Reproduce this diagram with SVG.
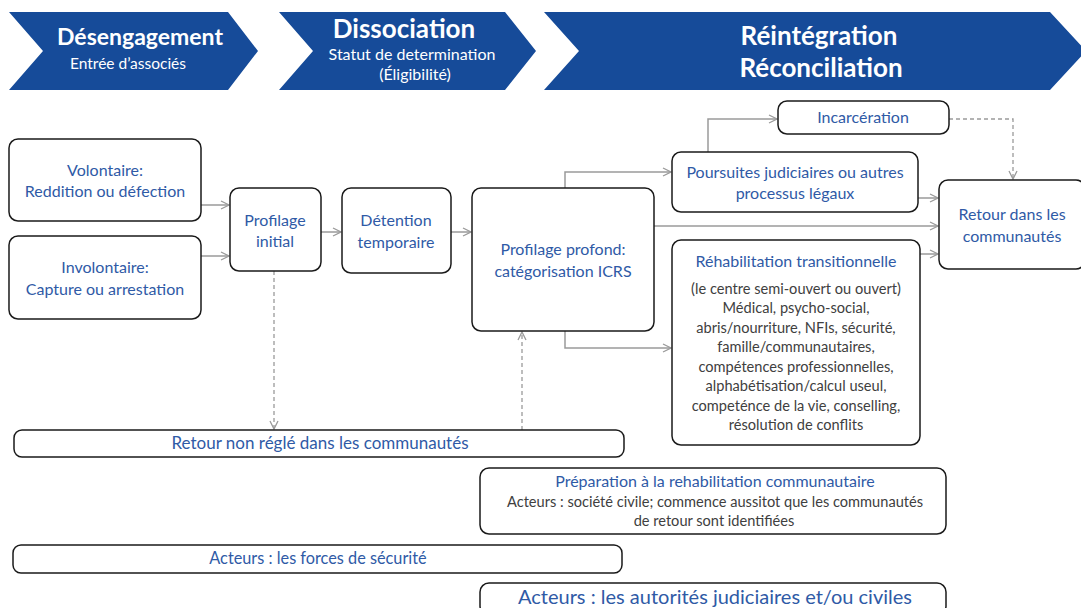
<svg xmlns="http://www.w3.org/2000/svg" width="1081" height="608" viewBox="0 0 1081 608">
<defs>
<style>
.chev{fill:#164B99}
.h{font-family:Lato,"Open Sans",sans-serif;fill:#fff;text-anchor:middle;font-weight:bold;font-size:26px}
.hs{font-family:Lato,"Open Sans",sans-serif;fill:#fff;text-anchor:middle;font-size:16px}
.box{fill:#fff;stroke:#1a1a1a;stroke-width:1.5}
.t{font-family:Lato,"Open Sans",sans-serif;fill:#2F5AA6;text-anchor:middle;font-size:16px}
.g{font-family:Lato,"Open Sans",sans-serif;fill:#404040;text-anchor:middle;font-size:14.6px}
.c{fill:none;stroke:#9a9a9a;stroke-width:1.5}
.d{fill:none;stroke:#9a9a9a;stroke-width:1.3;stroke-dasharray:4 3}
</style>
<marker id="a" viewBox="0 0 10 10" refX="9" refY="5" markerWidth="10" markerHeight="10" markerUnits="userSpaceOnUse" orient="auto">
<path d="M1,1 L9,5 L1,9" fill="none" stroke="#9a9a9a" stroke-width="1.3"/>
</marker>
</defs>
<rect width="1081" height="608" fill="#fff"/>
<g id="phase1"><polygon class="chev" points="9,12 228,12 258,51 228,90 9,90 43,51"/>
<text class="h" x="140" y="45" style="font-size:23px">Désengagement</text>
<text class="hs" x="128" y="69" style="font-size:15.5px">Entrée d’associés</text></g>
<g id="phase2"><polygon class="chev" points="279,12 505,12 536,51 505,90 279,90 313,51"/>
<text class="h" x="404" y="38">Dissociation</text>
<text class="hs" x="412" y="60">Statut de determination</text>
<text class="hs" x="415" y="80">(Éligibilité)</text></g>
<g id="phase3"><polygon class="chev" points="544,12 1050,12 1086,51 1050,90 544,90 579,51"/>
<text class="h" x="819" y="45">Réintégration</text>
<text class="h" x="821" y="77">Réconciliation</text></g>

<g id="connectors">
<path class="c" d="M201,205 H229" marker-end="url(#a)"/>
<path class="c" d="M201,256 H229" marker-end="url(#a)"/>
<path class="c" d="M321,232 H341" marker-end="url(#a)"/>
<path class="c" d="M451,232 H471" marker-end="url(#a)"/>
<path class="c" d="M565,188 V172 H671" marker-end="url(#a)"/>
<path class="c" d="M708,152 V119 H777" marker-end="url(#a)"/>
<path class="c" d="M918,198 H938" marker-end="url(#a)"/>
<path class="c" d="M654,226 H938" marker-end="url(#a)"/>
<path class="c" d="M920,254 H938" marker-end="url(#a)"/>
<path class="c" d="M565,331 V348 H671" marker-end="url(#a)"/>
<path class="d" d="M949,119 H1013 V179" marker-end="url(#a)"/>
<path class="d" d="M274,271 V429" marker-end="url(#a)"/>
<path class="d" d="M522,430 V332" marker-end="url(#a)"/>
</g>

<g id="volontaire"><rect class="box" x="9" y="139" width="192" height="82" rx="9"/>
<text class="t" x="105" y="176">Volontaire:</text>
<text class="t" x="105" y="197">Reddition ou défection</text></g>
<g id="involontaire"><rect class="box" x="9" y="236" width="192" height="83" rx="9"/>
<text class="t" x="105" y="273">Involontaire:</text>
<text class="t" x="105" y="295">Capture ou arrestation</text></g>
<g id="profilage-initial"><rect class="box" x="230" y="188" width="91" height="83" rx="9"/>
<text class="t" x="275" y="226">Profilage</text>
<text class="t" x="275" y="247">initial</text></g>
<g id="detention"><rect class="box" x="342" y="188" width="109" height="85" rx="9"/>
<text class="t" x="396" y="226">Détention</text>
<text class="t" x="396" y="248">temporaire</text></g>
<g id="profilage-profond"><rect class="box" x="472" y="188" width="182" height="143" rx="9"/>
<text class="t" x="563" y="255">Profilage profond:</text>
<text class="t" x="563" y="277">catégorisation ICRS</text></g>
<g id="incarceration"><rect class="box" x="778" y="101" width="171" height="33" rx="9"/>
<text class="t" x="863" y="123">Incarcération</text></g>
<g id="poursuites"><rect class="box" x="672" y="152" width="246" height="60" rx="9"/>
<text class="t" x="795" y="178">Poursuites judiciaires ou autres</text>
<text class="t" x="795" y="199">processus légaux</text></g>
<g id="retour"><rect class="box" x="939" y="180" width="146" height="89" rx="9"/>
<text class="t" x="1012" y="220">Retour dans les</text>
<text class="t" x="1012" y="242">communautés</text></g>
<g id="rehabilitation"><rect class="box" x="672" y="240" width="248" height="205" rx="9"/>
<text class="t" x="796" y="267">Réhabilitation transitionnelle</text>
<text class="g" x="796" y="294">(le centre semi-ouvert ou ouvert)</text>
<text class="g" x="796" y="313">Médical, psycho-social,</text>
<text class="g" x="796" y="333">abris/nourriture, NFIs, sécurité,</text>
<text class="g" x="796" y="352">famille/communautaires,</text>
<text class="g" x="796" y="372">compétences professionnelles,</text>
<text class="g" x="796" y="391">alphabétisation/calcul useul,</text>
<text class="g" x="796" y="411">competénce de la vie, conselling,</text>
<text class="g" x="796" y="430">résolution de conflits</text></g>
<g id="retour-non-regle"><rect class="box" x="14" y="430" width="610" height="27" rx="8"/>
<text class="t" x="320" y="449" style="font-size:17px">Retour non réglé dans les communautés</text></g>
<g id="preparation"><rect class="box" x="480" y="468" width="466" height="66" rx="9"/>
<text class="t" x="715" y="487">Préparation à la rehabilitation communautaire</text>
<text class="g" x="715" y="507">Acteurs : société civile; commence aussitot que les communautés</text>
<text class="g" x="714" y="526">de retour sont identifiées</text></g>
<g id="forces-securite"><rect class="box" x="13" y="545" width="609" height="28" rx="8"/>
<text class="t" x="318" y="564" style="font-size:16.3px">Acteurs : les forces de sécurité</text></g>
<g id="autorites"><rect class="box" x="480" y="583" width="466" height="32" rx="9"/>
<text class="t" x="715" y="604" style="font-size:20px">Acteurs : les autorités judiciaires et/ou civiles</text></g>
</svg>
